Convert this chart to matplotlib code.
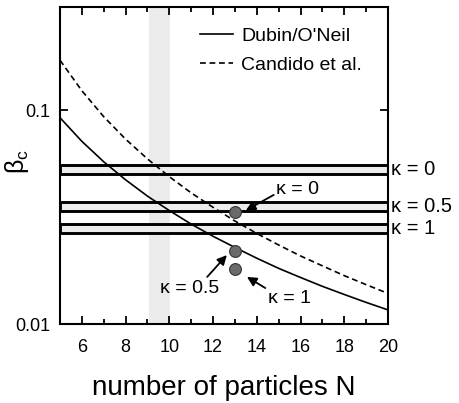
import numpy as np
import matplotlib
matplotlib.use("Agg")
from matplotlib import pyplot as plt
from matplotlib.ticker import FixedLocator, FixedFormatter, MultipleLocator, NullLocator

plt.rcParams['font.family'] = ['Liberation Sans', 'DejaVu Sans']
plt.rcParams['mathtext.fontset'] = 'custom'
plt.rcParams['mathtext.rm'] = 'Liberation Sans'
plt.rcParams['mathtext.default'] = 'regular'

# curves
N = [5, 6, 7, 8, 9, 10, 11, 12, 13, 14, 15, 16, 17, 18, 19, 20]
dubin = [0.0921, 0.0714, 0.0573, 0.0472, 0.0396, 0.0339, 0.0293, 0.0257,
         0.0228, 0.0203, 0.0182, 0.0165, 0.0150, 0.01374, 0.01262, 0.01164]
candido = [0.1710, 0.1231, 0.0931, 0.0731, 0.0591, 0.0488, 0.0410, 0.0351,
           0.0303, 0.0265, 0.0234, 0.0208, 0.0187, 0.01683, 0.01527, 0.01390]

# horizontal bands (beta_c ranges) and their labels
band_lo = [0.0501, 0.0337, 0.0265]
band_hi = [0.0553, 0.0373, 0.0293]
band_labels = ['κ = 0', 'κ = 0.5', 'κ = 1']

# simulation points at N = 13
pt_N = [13, 13, 13]
pt_beta = [0.0333, 0.0220, 0.0181]
pt_labels = ['κ = 0', 'κ = 0.5', 'κ = 1']

# shaded N range
shade = (9.07, 10.03)

fig = plt.figure(figsize=(4.59, 4.03), dpi=100)
ax = fig.add_axes([0.1307, 0.196, 0.7146, 0.7866])

ax.axvspan(shade[0], shade[1], color='#ebebeb', lw=0, zorder=0)
for lo, hi in zip(band_lo, band_hi):
    ax.axhspan(lo, hi, facecolor='#ececec', edgecolor='black', lw=2.1, zorder=1)

ax.plot(N, dubin, color='black', lw=1.2, label="Dubin/O'Neil", zorder=3)
ax.plot(N, candido, color='black', lw=1.2, ls=(0, (3.5, 2.2)), label='Candido et al.', zorder=3)

ax.plot(pt_N, pt_beta, 'o', ms=8.5, mfc='#6b6b6b', mec='#333333', mew=0.8, zorder=5)

arrow = dict(arrowstyle='-|>', color='black', lw=1.3, mutation_scale=14,
             shrinkA=0, shrinkB=0)
fs = 14
ax.annotate(pt_labels[0], xy=(13.5, pt_beta[0] * 1.02), xytext=(14.9, 0.0423),
            fontsize=fs, ha='left', va='center',
            arrowprops=dict(arrow, relpos=(0.0, 0.3)))
ax.annotate(pt_labels[1], xy=(12.63, 0.0210), xytext=(10.94, 0.0147),
            fontsize=fs, ha='center', va='center',
            arrowprops=dict(arrow, relpos=(0.75, 1.0)))
ax.annotate(pt_labels[2], xy=(13.55, 0.0166), xytext=(15.5, 0.0132),
            fontsize=fs, ha='center', va='center',
            arrowprops=dict(arrow, relpos=(0.0, 1.0)))

for lo, hi, lab in zip(band_lo, band_hi, band_labels):
    ax.text(1.01, np.sqrt(lo * hi), lab, transform=ax.get_yaxis_transform(),
            fontsize=14.5, ha='left', va='center')

ax.set_yscale('log')
ax.set_xlim(5, 20)
ax.set_ylim(0.01, 0.303)

ax.xaxis.set_major_locator(MultipleLocator(2))
ax.xaxis.set_minor_locator(MultipleLocator(1))
ax.yaxis.set_major_locator(FixedLocator([0.01, 0.1]))
ax.yaxis.set_major_formatter(FixedFormatter(['0.01', '0.1']))
ax.yaxis.set_minor_locator(NullLocator())
ax.tick_params(which='both', direction='in', top=True, right=True, width=1.3, labelsize=13)
ax.tick_params(axis='x', pad=11)
ax.tick_params(axis='y', pad=7)
ax.tick_params(which='major', length=6)
ax.tick_params(which='minor', length=3.5)
for s in ax.spines.values():
    s.set_linewidth(1.5)

ax.set_xlabel('number of particles N', fontsize=20)
ax.xaxis.set_label_coords(0.5, -0.16)
fig.text(17 / 459, 1 - 162 / 403, r'$\beta_c$', fontsize=18, rotation=90,
         ha='center', va='center')

leg = ax.legend(loc='upper left', bbox_to_anchor=(0.427, 0.935), frameon=False,
                fontsize=14, handlelength=1.7, handletextpad=0.4, borderpad=0,
                borderaxespad=0, labelspacing=0.55)

fig.savefig('out.png', dpi=100)
